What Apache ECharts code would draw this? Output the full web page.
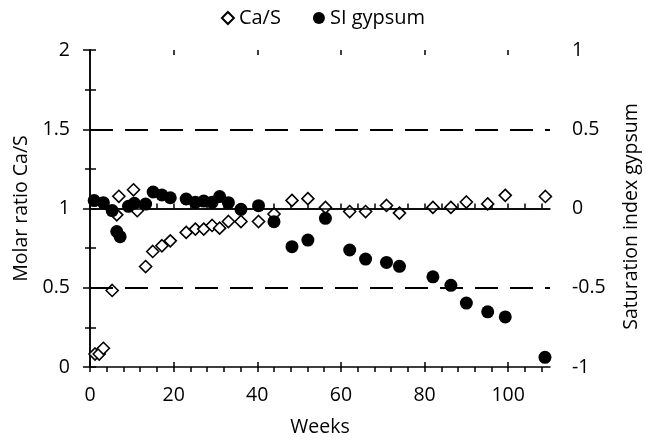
<!DOCTYPE html>
<html>
<head>
<meta charset="utf-8">
<script src="https://cdn.jsdelivr.net/npm/echarts@6/dist/echarts.min.js"></script>
<style>
html,body{margin:0;padding:0;background:#fff;}
#chart{width:646px;height:440px;}
</style>
</head>
<body>
<div id="chart"></div>
<script>
// Ca/S molar ratio (left axis)
const casWeeks  = [1.2, 2.2, 3.2, 5.3, 6.4, 6.9, 10.4, 11.3, 13.3, 15.0, 17.2, 19.2, 23.0, 25.2, 27.2, 29.2, 31.0, 33.1, 36.1, 40.3, 44.0, 48.3, 52.1, 56.3, 62.1, 65.9, 70.9, 74.0, 82.0, 86.3, 90.0, 95.1, 99.3, 108.9];
const casValues = [0.082, 0.082, 0.118, 0.483, 0.96, 1.077, 1.118, 0.986, 0.634, 0.729, 0.765, 0.796, 0.849, 0.87, 0.87, 0.893, 0.876, 0.918, 0.918, 0.918, 0.965, 1.051, 1.062, 1.007, 0.981, 0.981, 1.019, 0.971, 1.007, 1.007, 1.041, 1.029, 1.083, 1.076];
// Saturation index gypsum (right axis)
const siWeeks  = [1.0, 3.2, 5.3, 6.4, 7.2, 9.2, 10.6, 13.3, 15.1, 17.2, 19.2, 23.0, 25.2, 27.2, 29.2, 31.0, 33.1, 36.1, 40.3, 44.0, 48.3, 52.1, 56.3, 62.1, 65.9, 70.9, 74.0, 82.0, 86.3, 90.0, 95.1, 99.3, 108.8];
const siValues = [0.05, 0.037, -0.013, -0.145, -0.178, 0.014, 0.033, 0.028, 0.104, 0.085, 0.068, 0.06, 0.039, 0.047, 0.039, 0.075, 0.037, -0.005, 0.018, -0.083, -0.241, -0.199, -0.062, -0.262, -0.319, -0.34, -0.365, -0.431, -0.485, -0.597, -0.652, -0.684, -0.939];
// axis ticks
const xMajorTicks = [0, 20, 40, 60, 80, 100];
const xMinorTicks = [0, 4, 8, 12, 16, 20, 24, 28, 32, 36, 40, 44, 48, 52, 56, 60, 64, 68, 72, 76, 80, 84, 88, 92, 96, 100, 104, 108];
const leftTicks = [0, 0.5, 1, 1.5, 2];
const rightTicks = [-1, -0.5, 0, 0.5, 1];
const dashedRefs = [0.5, 1.5];
const solidRef = 1;

const FONT = 'Open Sans';
const FS = 19.5;
const casData = casWeeks.map((w, i) => [w, casValues[i]]);
const siData = siWeeks.map((w, i) => [w, siValues[i]]);

function xAx(pos, opts) {
  return Object.assign({
    type: 'value', position: pos, min: 0, max: 110, interval: 20,
    axisLine: {show: false}, splitLine: {show: false},
    axisLabel: {show: false}, axisTick: {show: false}
  }, opts);
}

const option = {
  animation: false,
  backgroundColor: '#fff',
  textStyle: {fontFamily: FONT, color: '#000'},
  legend: {
    top: 3, left: 'center', itemWidth: 12, itemHeight: 12, itemGap: 32,
    textStyle: {fontFamily: FONT, fontSize: 20, color: '#000'},
    data: [{name: 'Ca/S', icon: 'diamond'}, {name: 'SI gypsum', icon: 'circle'}]
  },
  grid: {left: 90, right: 96, top: 50, bottom: 73, containLabel: false, outerBoundsMode: 'none'},
  xAxis: [
    xAx('bottom', {
      name: 'Weeks', nameLocation: 'middle', nameGap: 50,
      nameTextStyle: {fontFamily: FONT, fontSize: FS, color: '#000'},
      axisLine: {show: true, lineStyle: {color: '#000', width: 1.5}},
      axisLabel: {show: true, margin: 18, fontSize: FS, fontFamily: FONT, color: '#000', customValues: xMajorTicks},
      axisTick: {show: true, inside: false, length: 5, lineStyle: {color: '#000', width: 1.5}, customValues: xMinorTicks}
    }),
    xAx('bottom', {
      axisTick: {show: true, inside: true, length: 5, lineStyle: {color: '#000', width: 1.5}, customValues: xMajorTicks}
    }),
    xAx('top', {
      axisLine: {show: true, lineStyle: {color: '#000', width: 1.5}},
      axisTick: {show: true, inside: false, length: 5, lineStyle: {color: '#000', width: 1.5}, customValues: xMinorTicks}
    }),
    xAx('top', {
      axisTick: {show: true, inside: true, length: 5, lineStyle: {color: '#000', width: 1.5}, customValues: xMajorTicks}
    })
  ],
  yAxis: [
    {
      type: 'value', position: 'left', min: 0, max: 2, interval: 0.5,
      name: 'Molar ratio Ca/S', nameLocation: 'middle', nameGap: 57,
      nameTextStyle: {fontFamily: FONT, fontSize: FS, color: '#000'},
      axisLine: {show: true, lineStyle: {color: '#000', width: 1.5}},
      axisLabel: {margin: 20, fontSize: FS, fontFamily: FONT, color: '#000', customValues: leftTicks},
      axisTick: {show: true, inside: false, length: 7, lineStyle: {color: '#000', width: 1.5}},
      minorTick: {show: true, splitNumber: 2, length: 5, lineStyle: {color: '#000', width: 1.5}},
      splitLine: {show: false}
    },
    {
      type: 'value', position: 'left', min: 0, max: 2, interval: 0.5,
      axisLine: {show: false}, axisLabel: {show: false}, splitLine: {show: false},
      axisTick: {show: true, inside: true, length: 5, lineStyle: {color: '#000', width: 1.5}}
    },
    {
      type: 'value', position: 'right', min: -1, max: 1, interval: 0.5,
      name: 'Saturation index gypsum', nameLocation: 'middle', nameGap: 71,
      nameTextStyle: {fontFamily: FONT, fontSize: FS, color: '#000', padding: [0, 16, 0, 0]},
      axisLine: {show: true, lineStyle: {color: '#000', width: 1.5}},
      axisLabel: {margin: 22, fontSize: FS, fontFamily: FONT, color: '#000', customValues: rightTicks},
      axisTick: {show: true, inside: false, length: 6, lineStyle: {color: '#000', width: 1.5}},
      minorTick: {show: true, splitNumber: 2, length: 6, lineStyle: {color: '#000', width: 1.5}},
      splitLine: {show: false}
    }
  ],
  series: [
    {
      name: 'Ca/S', type: 'scatter', xAxisIndex: 0, yAxisIndex: 0,
      symbol: 'diamond', symbolSize: 12,
      itemStyle: {color: '#fff', borderColor: '#000', borderWidth: 1.6, opacity: 1},
      data: casData,
      z: 3,
      markLine: {
        silent: true, symbol: 'none', label: {show: false},
        data: dashedRefs.map(v => ({yAxis: v, lineStyle: {type: [23, 12], color: '#000', width: 2, opacity: 1}}))
          .concat([{yAxis: solidRef, lineStyle: {type: 'solid', color: '#000', width: 1.5, opacity: 1}}])
      }
    },
    {
      name: 'SI gypsum', type: 'scatter', xAxisIndex: 0, yAxisIndex: 2,
      symbol: 'circle', symbolSize: 13,
      itemStyle: {color: '#000', opacity: 1},
      data: siData,
      z: 4
    }
  ]
};

const chart = echarts.init(document.getElementById('chart'), null, {renderer: 'canvas'});
chart.setOption(option);
</script>
</body>
</html>
